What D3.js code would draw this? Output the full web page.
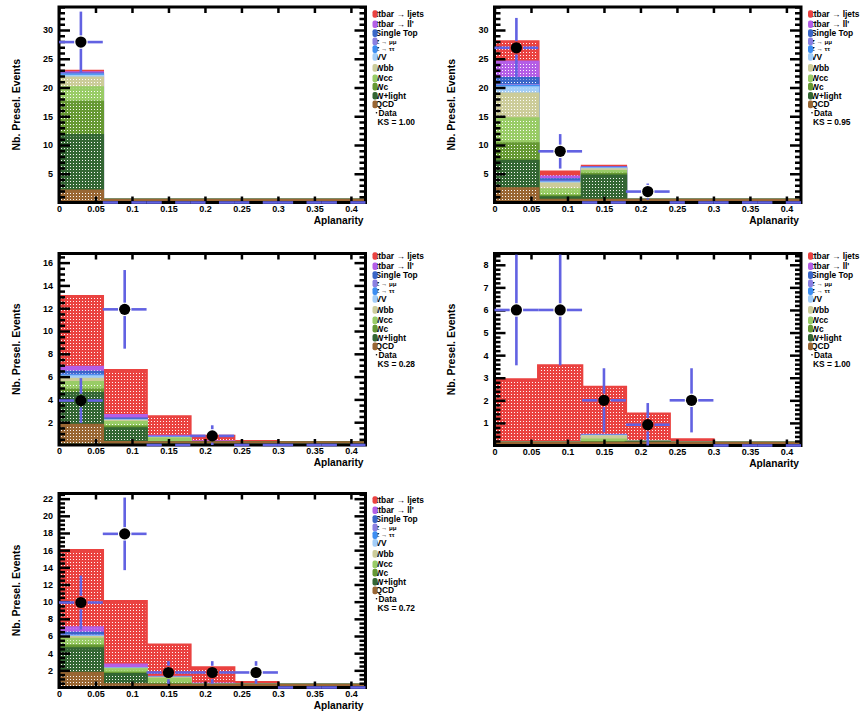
<!DOCTYPE html>
<html><head><meta charset="utf-8">
<script src="https://cdn.jsdelivr.net/npm/d3@7"></script>
<style>
body{margin:0;background:#fff}
svg{display:block}
text{font-family:"Liberation Sans",Arial,Helvetica,sans-serif;font-weight:bold;fill:#000}
</style>
</head><body><svg id="c" width="865" height="719"></svg>
<script>
// ---------------- DATA ----------------
const binEdges = [0, 0.06, 0.12, 0.18, 0.24, 0.30, 0.36, 0.42];
const xTickValues = [0, 0.05, 0.1, 0.15, 0.2, 0.25, 0.3, 0.35, 0.4];
const xTickLabels = ["0", "0.05", "0.1", "0.15", "0.2", "0.25", "0.3", "0.35", "0.4"];
const processNames = ["ttbar \u2192 ljets", "ttbar \u2192 ll'", "Single Top", "Z \u2192 \u03bc\u03bc", "Z \u2192 \u03c4\u03c4", "VV", "Wbb", "Wcc", "Wc", "W+light", "QCD"];
const processColors = ["#ea4240", "#b45ee6", "#3a66c8", "#8a80e2", "#3c8ef2", "#a2cdf8", "#cccc99", "#99cc66", "#669933", "#336633", "#996633"];

// stacked MC per panel: rows follow processNames, columns follow bins
const panel1Stack = [
  [0.25, 0, 0, 0, 0, 0, 0], [0.2, 0, 0, 0, 0, 0, 0], [0.1, 0, 0, 0, 0, 0, 0], [0.1, 0, 0, 0, 0, 0, 0],
  [0.2, 0, 0, 0, 0, 0, 0], [0.3, 0, 0, 0, 0, 0, 0], [1.7, 0, 0, 0, 0, 0, 0], [2.5, 0, 0, 0, 0, 0, 0],
  [5.8, 0, 0, 0, 0, 0, 0], [9.65, 0, 0, 0, 0, 0, 0], [2.05, 0, 0, 0, 0, 0, 0]];
const panel2Stack = [
  [3.5, 0.85, 0.2, 0, 0, 0, 0], [2.9, 0.5, 0.1, 0, 0, 0, 0], [1.2, 0.4, 0.1, 0, 0, 0, 0], [0.2, 0.1, 0.05, 0, 0, 0, 0],
  [0.2, 0.05, 0.05, 0, 0, 0, 0], [1.1, 0.2, 0.1, 0, 0, 0, 0], [4.3, 1.0, 0.3, 0, 0, 0, 0], [4.35, 1.1, 0.5, 0, 0, 0, 0],
  [3.05, 0.3, 0.3, 0, 0, 0, 0], [4.75, 0.5, 4.35, 0, 0, 0, 0], [2.45, 0.35, 0.3, 0, 0, 0, 0]];
const panel3Stack = [
  [6.2, 3.95, 1.7, 0.5, 0.3, 0, 0], [0.45, 0.3, 0.1, 0.06, 0, 0, 0], [0.25, 0.1, 0.05, 0.05, 0, 0, 0], [0.05, 0.03, 0.02, 0.01, 0, 0, 0],
  [0.1, 0.02, 0.01, 0, 0, 0, 0], [0.2, 0.05, 0.02, 0.01, 0, 0, 0], [0.3, 0.1, 0.05, 0.03, 0, 0, 0], [0.65, 0.4, 0.3, 0.05, 0, 0, 0],
  [0.3, 0.15, 0.05, 0.02, 0, 0, 0], [2.8, 1.2, 0.15, 0.05, 0.03, 0, 0], [1.75, 0.25, 0.05, 0.02, 0, 0, 0]];
const panel4Stack = [
  [2.9, 3.5, 2.13, 1.25, 0.27, 0, 0], [0, 0.01, 0.02, 0, 0, 0, 0], [0, 0, 0.02, 0, 0, 0, 0], [0, 0, 0, 0, 0, 0, 0],
  [0, 0, 0, 0, 0, 0, 0], [0, 0, 0.02, 0, 0, 0, 0], [0, 0, 0.14, 0, 0, 0, 0], [0, 0, 0.12, 0, 0, 0, 0],
  [0, 0, 0.06, 0.02, 0, 0, 0], [0.01, 0.02, 0.06, 0.12, 0, 0, 0], [0.01, 0.01, 0.02, 0.02, 0, 0, 0]];
const panel5Stack = [
  [9.0, 7.4, 3.75, 1.9, 0.55, 0, 0], [0.65, 0.4, 0.05, 0.05, 0, 0, 0], [0.3, 0.05, 0.03, 0.05, 0, 0, 0], [0.05, 0.01, 0.02, 0, 0, 0, 0],
  [0.05, 0.02, 0, 0.02, 0, 0, 0], [0.1, 0.02, 0.02, 0.05, 0, 0, 0], [0.2, 0.05, 0.1, 0.05, 0, 0, 0], [0.8, 0.4, 0.6, 0.1, 0, 0, 0],
  [0.3, 0.15, 0.15, 0.05, 0, 0, 0], [2.85, 1.2, 0.15, 0.05, 0.03, 0, 0], [1.7, 0.35, 0.1, 0.02, 0.02, 0, 0]];

const panel1Data = [27.9, 0, 0, 0, 0, 0, 0];
const panel1Err  = [5.3, 0, 0, 0, 0, 0, 0];
const panel2Data = [26.9, 8.9, 0, 1.9, 0, 0, 0];
const panel2Err  = [5.2, 3.0, 0, 1.4, 0, 0, 0];
const panel3Data = [3.9, 11.9, 0, 0.8, 0, 0, 0];
const panel3Err  = [1.97, 3.45, 0, 0.93, 0, 0, 0];
const panel4Data = [6.0, 6.0, 2.0, 0.92, 2.0, 0, 0];
const panel4Err  = [2.45, 2.45, 1.42, 0.96, 1.42, 0, 0];
const panel5Data = [9.9, 17.9, 1.75, 1.75, 1.75, 0, 0];
const panel5Err  = [3.15, 4.23, 1.32, 1.32, 1.32, 0, 0];

const ksValues = ["1.00", "0.95", "0.28", "1.00", "0.72"];
const yMaxValues = [34, 34, 16.8, 8.5, 22.6];
const yMajorTicks = [
  [5, 10, 15, 20, 25, 30], [5, 10, 15, 20, 25, 30],
  [2, 4, 6, 8, 10, 12, 14, 16], [1, 2, 3, 4, 5, 6, 7, 8],
  [2, 4, 6, 8, 10, 12, 14, 16, 18, 20, 22]];
const yMinorStep = [1, 1, 0.5, 0.2, 0.5];

// ---------------- LAYOUT ----------------
const frames = [
  {x0: 59,    x1: 365.5, top: 7,     y0: 202.5, padTop: 0},
  {x0: 494.5, x1: 801,   top: 7,     y0: 202.5, padTop: 0},
  {x0: 59,    x1: 365.5, top: 253.5, y0: 445,   padTop: 240},
  {x0: 494.5, x1: 801,   top: 253.5, y0: 445.5, padTop: 240},
  {x0: 59,    x1: 365.5, top: 493.5, y0: 687.5, padTop: 480}];
const legendStart = [14, 14, 16, 16, 20];
const legendOffsets = [0, 10.2, 19.1, 27.4, 35.1, 42.9, 53.9, 64.4, 72.6, 81.7, 90.4, 98.8, 108.0];
const errColor = "#6262e2";

const stacks = [panel1Stack, panel2Stack, panel3Stack, panel4Stack, panel5Stack];
const datas = [panel1Data, panel2Data, panel3Data, panel4Data, panel5Data];
const errs = [panel1Err, panel2Err, panel3Err, panel4Err, panel5Err];

const svg = d3.select("#c");
svg.append("rect").attr("width", 865).attr("height", 719).attr("fill", "#fff");
const defs = svg.append("defs");
processColors.forEach((c, i) => {
  const p = defs.append("pattern").attr("id", "pat" + i).attr("width", 3).attr("height", 3)
    .attr("patternUnits", "userSpaceOnUse");
  p.append("rect").attr("width", 3).attr("height", 3).attr("fill", c);
  p.append("rect").attr("x", 1).attr("y", 1).attr("width", 1).attr("height", 1).attr("fill", "#fff").attr("opacity", 0.95);
});

function drawPanel(k) {
  const f = frames[k], stack = stacks[k], data = datas[k], err = errs[k];
  const yMax = yMaxValues[k];
  const g = svg.append("g");
  const x = d3.scaleLinear().domain([binEdges[0], binEdges[binEdges.length - 1]]).range([f.x0, f.x1]);
  const y = d3.scaleLinear().domain([0, yMax]).range([f.y0, f.top]);
  const nb = binEdges.length - 1, np = processNames.length;

  defs.append("clipPath").attr("id", "clip" + k).append("rect")
    .attr("x", f.x0).attr("y", f.top).attr("width", f.x1 - f.x0).attr("height", f.y0 - f.top - 1.5);
  const hg = g.append("g").attr("clip-path", `url(#clip${k})`);

  // cumulative sums: cum[i][b] = sum of processes i..np-1 (QCD at bottom)
  const cum = [];
  for (let i = np - 1; i >= 0; i--) cum[i] = stack[i].map((v, b) => v + (i < np - 1 ? cum[i + 1][b] : 0));

  const line = d3.line();
  for (let i = 0; i < np; i++) {
    const pts = [[x(binEdges[0]), y(0)]];
    for (let b = 0; b < nb; b++) {
      pts.push([x(binEdges[b]), y(cum[i][b])]);
      pts.push([x(binEdges[b + 1]), y(cum[i][b])]);
    }
    pts.push([x(binEdges[nb]), y(0)]);
    hg.append("path").attr("d", line(pts) + "Z").attr("fill", `url(#pat${i})`);
    const ol = pts.map(([px, py]) => [px, Math.min(py, y(0) - 2.5)]);
    hg.append("path").attr("d", line(ol)).attr("fill", "none")
      .attr("stroke", processColors[i]).attr("stroke-width", 2.5);
  }

  // frame
  g.append("rect").attr("x", f.x0).attr("y", f.top).attr("width", f.x1 - f.x0).attr("height", f.y0 - f.top)
    .attr("fill", "none").attr("stroke", "#000").attr("stroke-width", 3);

  // y axes
  const majors = yMajorTicks[k];
  const ms = yMinorStep[k], mj = majors[1] - majors[0];
  const minors = d3.range(1, Math.floor(yMax / ms + 1e-6) + 1).map(i => +(i * ms).toFixed(4))
    .filter(v => Math.abs(v / mj - Math.round(v / mj)) > 1e-6);
  const styleAxis = (sel) => {
    sel.select(".domain").remove();
    sel.selectAll(".tick line").attr("stroke", "#000").attr("stroke-width", 2.5);
    sel.selectAll(".tick text").attr("font-size", 9).attr("fill", "#000")
      .attr("font-family", '"Liberation Sans", Arial, sans-serif').attr("font-weight", "bold");
  };
  g.append("g").attr("transform", `translate(${f.x0},0)`)
    .call(d3.axisLeft(y).tickValues(majors).tickSizeInner(-11).tickSizeOuter(0).tickPadding(6).tickFormat(d3.format("d")))
    .call(styleAxis);
  g.append("g").attr("transform", `translate(${f.x0},0)`)
    .call(d3.axisLeft(y).tickValues(minors).tickSizeInner(-6).tickSizeOuter(0).tickFormat(""))
    .call(styleAxis);
  g.append("g").attr("transform", `translate(${f.x1},0)`)
    .call(d3.axisRight(y).tickValues(majors).tickSizeInner(-11).tickSizeOuter(0).tickFormat(""))
    .call(styleAxis);
  g.append("g").attr("transform", `translate(${f.x1},0)`)
    .call(d3.axisRight(y).tickValues(minors).tickSizeInner(-6).tickSizeOuter(0).tickFormat(""))
    .call(styleAxis);
  // x axes
  g.append("g").attr("transform", `translate(0,${f.y0})`)
    .call(d3.axisBottom(x).tickValues(xTickValues).tickSizeInner(-6).tickSizeOuter(0).tickPadding(3)
      .tickFormat((d, i) => xTickLabels[i]))
    .call(styleAxis);
  g.append("g").attr("transform", `translate(0,${f.top})`)
    .call(d3.axisTop(x).tickValues(xTickValues).tickSizeInner(-6).tickSizeOuter(0).tickFormat(""))
    .call(styleAxis);

  // axis titles
  g.append("text").attr("x", f.x1 - 2).attr("y", f.y0 + 21).attr("text-anchor", "end")
    .attr("font-size", 10.2).text("Aplanarity");
  g.append("text").attr("transform", `translate(${f.x0 - 39.5},${(f.top + f.y0) / 2}) rotate(-90)`)
    .attr("text-anchor", "middle").attr("font-size", 10.5).text("Nb. Presel. Events");

  // data
  const dg = g.append("g");
  const gap = 6.7;
  data.forEach((v, b) => {
    const cx = x((binEdges[b] + binEdges[b + 1]) / 2), cy = y(v);
    const xl = x(binEdges[b]), xr = x(binEdges[b + 1]);
    const seg = (x1, y1, x2, y2) => dg.append("line").attr("x1", x1).attr("y1", y1).attr("x2", x2).attr("y2", y2)
      .attr("stroke", errColor).attr("stroke-width", 2.6);
    seg(xl, cy, cx - gap, cy);
    seg(cx + gap, cy, xr, cy);
    if (err[b] > 0) {
      const yt = Math.max(y(v + err[b]), f.top), ybt = y(Math.max(v - err[b], 0));
      if (yt < cy - gap) seg(cx, yt, cx, cy - gap);
      if (ybt > cy + gap) seg(cx, cy + gap, cx, ybt);
    }
    if (v > 0) dg.append("circle").attr("cx", cx).attr("cy", cy).attr("r", 5.6).attr("fill", "#000");
  });

  // legend
  const lg = g.append("g");
  const ly0 = f.padTop + legendStart[k];
  processNames.forEach((name, i) => {
    const cy = ly0 + legendOffsets[i];
    const isZ = name.startsWith("Z");
    lg.append("text").attr("x", f.x1 + 10).attr("y", cy + (isZ ? 2.1 : 3.0))
      .attr("font-size", isZ ? 6.2 : 8.4).text(name);
    lg.append("rect").attr("x", f.x1 + 7).attr("y", cy - 3.8).attr("width", 5).attr("height", 7.6)
      .attr("rx", 2).attr("fill", processColors[i]);
  });
  const dy = ly0 + legendOffsets[11];
  lg.append("circle").attr("cx", f.x1 + 11).attr("cy", dy).attr("r", 0.8).attr("fill", "#000");
  lg.append("text").attr("x", f.x1 + 13).attr("y", dy + 3.0).attr("font-size", 8.4).text("Data");
  lg.append("text").attr("x", f.x1 + 12).attr("y", ly0 + legendOffsets[12] + 3.0).attr("font-size", 8.4)
    .text("KS = " + ksValues[k]);
}

for (let k = 0; k < frames.length; k++) drawPanel(k);
</script>
</body></html>
